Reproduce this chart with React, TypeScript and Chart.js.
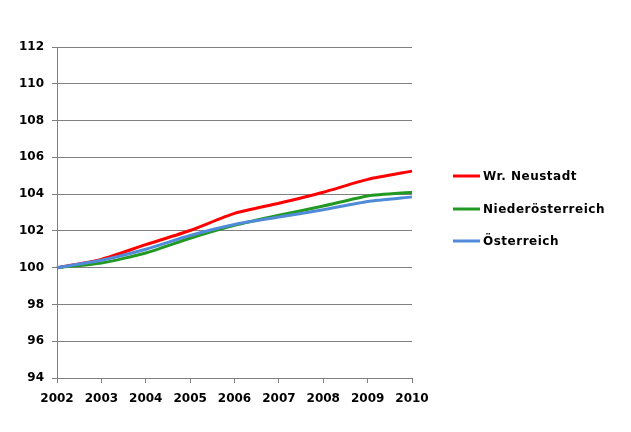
import React, { useEffect, useRef } from "react";
import { Chart, registerables } from "chart.js";

Chart.register(...registerables);

const years = ["2002", "2003", "2004", "2005", "2006", "2007", "2008", "2009", "2010"];
const wrNeustadt = [100, 100.45, 101.25, 102.02, 102.95, 103.5, 104.1, 104.8, 105.25];
const niederoesterreich = [100, 100.25, 100.8, 101.6, 102.3, 102.85, 103.35, 103.9, 104.1];
const oesterreich = [100, 100.4, 101.0, 101.75, 102.35, 102.75, 103.15, 103.6, 103.85];
const seriesNames = ["Wr. Neustadt", "Niederösterreich", "Österreich"];

const FONT = "'DejaVu Sans', Verdana, sans-serif";

const legendPlugin = {
  id: "customLegend",
  afterDraw(chart: any) {
    const ctx = chart.ctx;
    const ys = [176, 209, 241];
    ctx.save();
    chart.data.datasets.forEach((ds: any, i: number) => {
      const y = ys[i];
      ctx.strokeStyle = ds.borderColor;
      ctx.lineWidth = 3;
      ctx.beginPath();
      ctx.moveTo(453, y);
      ctx.lineTo(480, y);
      ctx.stroke();
      ctx.fillStyle = "#000";
      ctx.font = `bold 12px ${FONT}`;
      (ctx as any).letterSpacing = "0.5px";
      ctx.textBaseline = "middle";
      ctx.textAlign = "left";
      ctx.fillText(ds.label, 483, y + 1);
    });
    ctx.restore();
  },
};

export default function App() {
  const ref = useRef<HTMLCanvasElement | null>(null);
  useEffect(() => {
    if (!ref.current) return;
    const chart = new Chart(ref.current, {
      type: "line",
      data: {
        labels: years,
        datasets: [
          { label: seriesNames[0], data: wrNeustadt, borderColor: "#ff0000", order: 3 },
          { label: seriesNames[1], data: niederoesterreich, borderColor: "#229922", order: 2 },
          { label: seriesNames[2], data: oesterreich, borderColor: "#4f8bd9", order: 1 },
        ].map((d) => ({
          ...d,
          borderWidth: 3,
          pointRadius: 0,
          tension: 0.2,
          fill: false,
          backgroundColor: d.borderColor,
        })),
      },
      options: {
        animation: false,
        responsive: false,
        maintainAspectRatio: false,
        layout: { padding: { top: 47, right: 219, bottom: 0, left: 0 } },
        plugins: { legend: { display: false }, tooltip: { enabled: false } },
        scales: {
          x: {
            type: "category",
            offset: false,
            grid: { drawOnChartArea: false, drawTicks: true, tickLength: 5, color: "#808080" },
            border: { color: "#808080" },
            ticks: {
              color: "#000",
              font: { family: FONT, size: 12, weight: "bold" },
              padding: 9,
              maxRotation: 0,
              autoSkip: false,
            },
            afterFit(scale: any) {
              scale.height = 54;
            },
          },
          y: {
            min: 94,
            max: 112,
            ticks: {
              stepSize: 2,
              color: "#000",
              font: { family: FONT, size: 12, weight: "bold" },
              padding: 8,
            },
            grid: { color: "#808080", tickLength: 5 },
            border: { color: "#808080" },
            afterFit(scale: any) {
              scale.width = 57;
            },
          },
        },
      },
      plugins: [legendPlugin],
    });
    return () => chart.destroy();
  }, []);
  return (
    <div style={{ position: "fixed", left: 0, top: 0, width: 631, height: 432, background: "#fff" }}>
      <canvas ref={ref} width={631} height={432} style={{ width: 631, height: 432 }} />
    </div>
  );
}
